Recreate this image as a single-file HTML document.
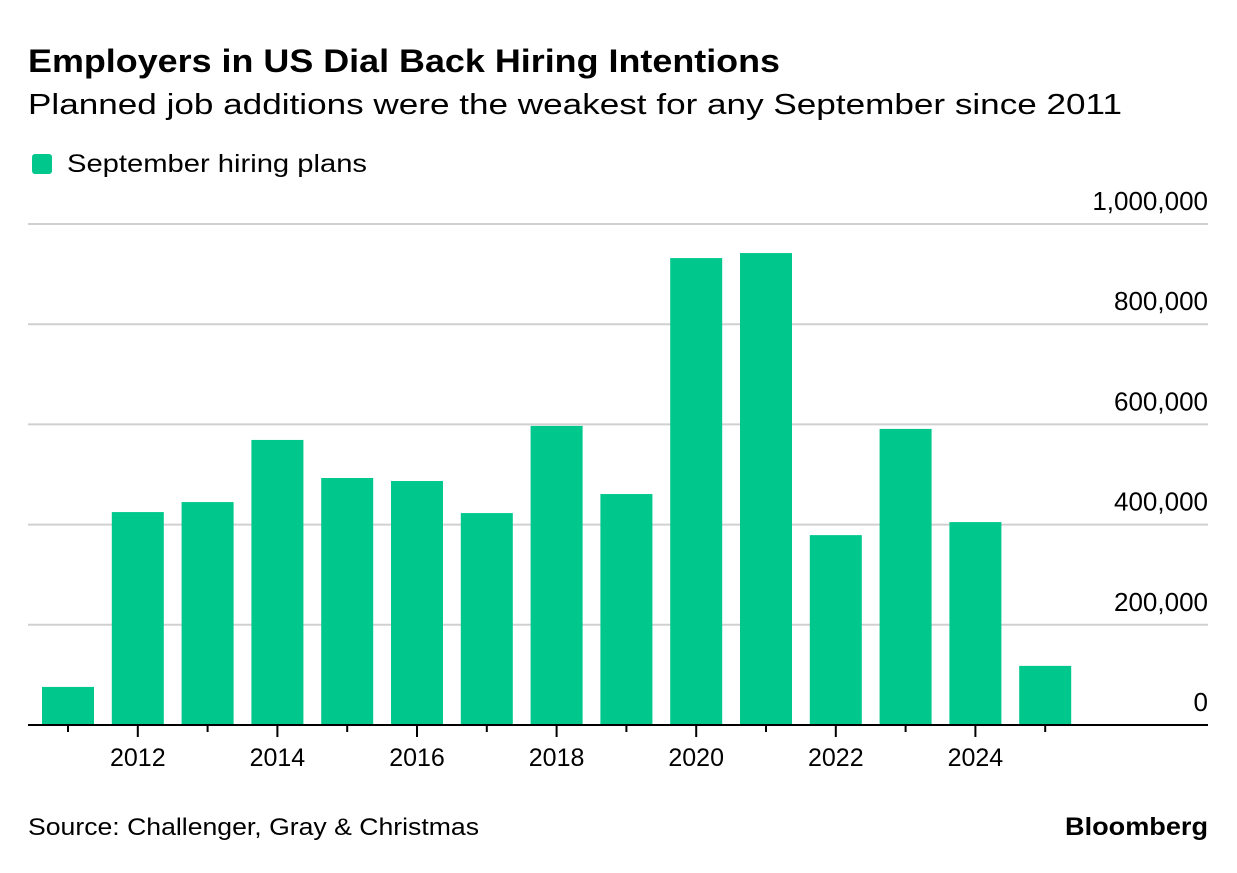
<!DOCTYPE html>
<html><head><meta charset="utf-8"><style>
body{margin:0;background:#fff;width:1237px;height:868px;overflow:hidden;font-family:"Liberation Sans",sans-serif;}
</style></head><body>
<svg width="1237" height="868">
<text x="28" y="72" font-size="32" font-weight="bold" fill="#000" textLength="752" lengthAdjust="spacingAndGlyphs">Employers in US Dial Back Hiring Intentions</text>
<text x="28" y="114" font-size="29" fill="#000" textLength="1094" lengthAdjust="spacingAndGlyphs">Planned job additions were the weakest for any September since 2011</text>
<rect x="32" y="154" width="20" height="20" rx="3" fill="#00c88c"/>
<text x="67" y="172" font-size="25" fill="#000" textLength="300" lengthAdjust="spacingAndGlyphs">September hiring plans</text>
<g id="grid"></g><g id="bars"></g><g id="axis"></g>
<text x="28" y="835" font-size="24" fill="#000" textLength="451" lengthAdjust="spacingAndGlyphs">Source: Challenger, Gray &amp; Christmas</text>
<text x="1208" y="835" font-size="25" font-weight="bold" text-anchor="end" fill="#000" textLength="143" lengthAdjust="spacingAndGlyphs">Bloomberg</text>
</svg>
<script>
const years=[2011,2012,2013,2014,2015,2016,2017,2018,2019,2020,2021,2022,2023,2024,2025];
const values=[76000,425000,445000,569000,493000,487000,423000,597000,461000,932000,942000,379000,591000,405000,118000];
const yTicks=[0,200000,400000,600000,800000,1000000];
const yTickLabels=["0","200,000","400,000","600,000","800,000","1,000,000"];
const xLabelYears=[2012,2014,2016,2018,2020,2022,2024];
const NS="http://www.w3.org/2000/svg";
const y=v=>725-v*(501/1000000);
const x=yr=>68+(yr-2011)*69.8;
function mk(tag,attrs,parent,txt){const e=document.createElementNS(NS,tag);for(const k in attrs)e.setAttribute(k,attrs[k]);if(txt!==undefined)e.textContent=txt;document.getElementById(parent).appendChild(e);return e;}
yTicks.forEach((t,i)=>{
 if(t>0){const l=mk('line',{x1:28,x2:1208,y1:y(t),y2:y(t),stroke:'#d0d0d0','stroke-width':2},'grid');
 
 }
 const tx=mk('text',{x:1208,y:y(t)-14,'font-size':26,'text-anchor':'end',fill:'#000'},'grid',yTickLabels[i]);
 
 
});
years.forEach((yr,i)=>{
 const r=mk('rect',{x:x(yr)-26,y:y(values[i]),width:52,height:725-y(values[i]),fill:'#00c88c'},'bars');
 
 
 const major=xLabelYears.includes(yr);
 const tk=mk('line',{x1:x(yr),x2:x(yr),y1:725,y2:major?737:732,stroke:'#000','stroke-width':2},'axis');
 
 
 if(major){const t=mk('text',{x:x(yr),y:766,'font-size':25,'text-anchor':'middle',fill:'#000'},'axis',String(yr));
 
 }
});
const base=mk('line',{x1:28,x2:1208,y1:725,y2:725,stroke:'#000','stroke-width':2},'axis');


</script>
</body></html>
